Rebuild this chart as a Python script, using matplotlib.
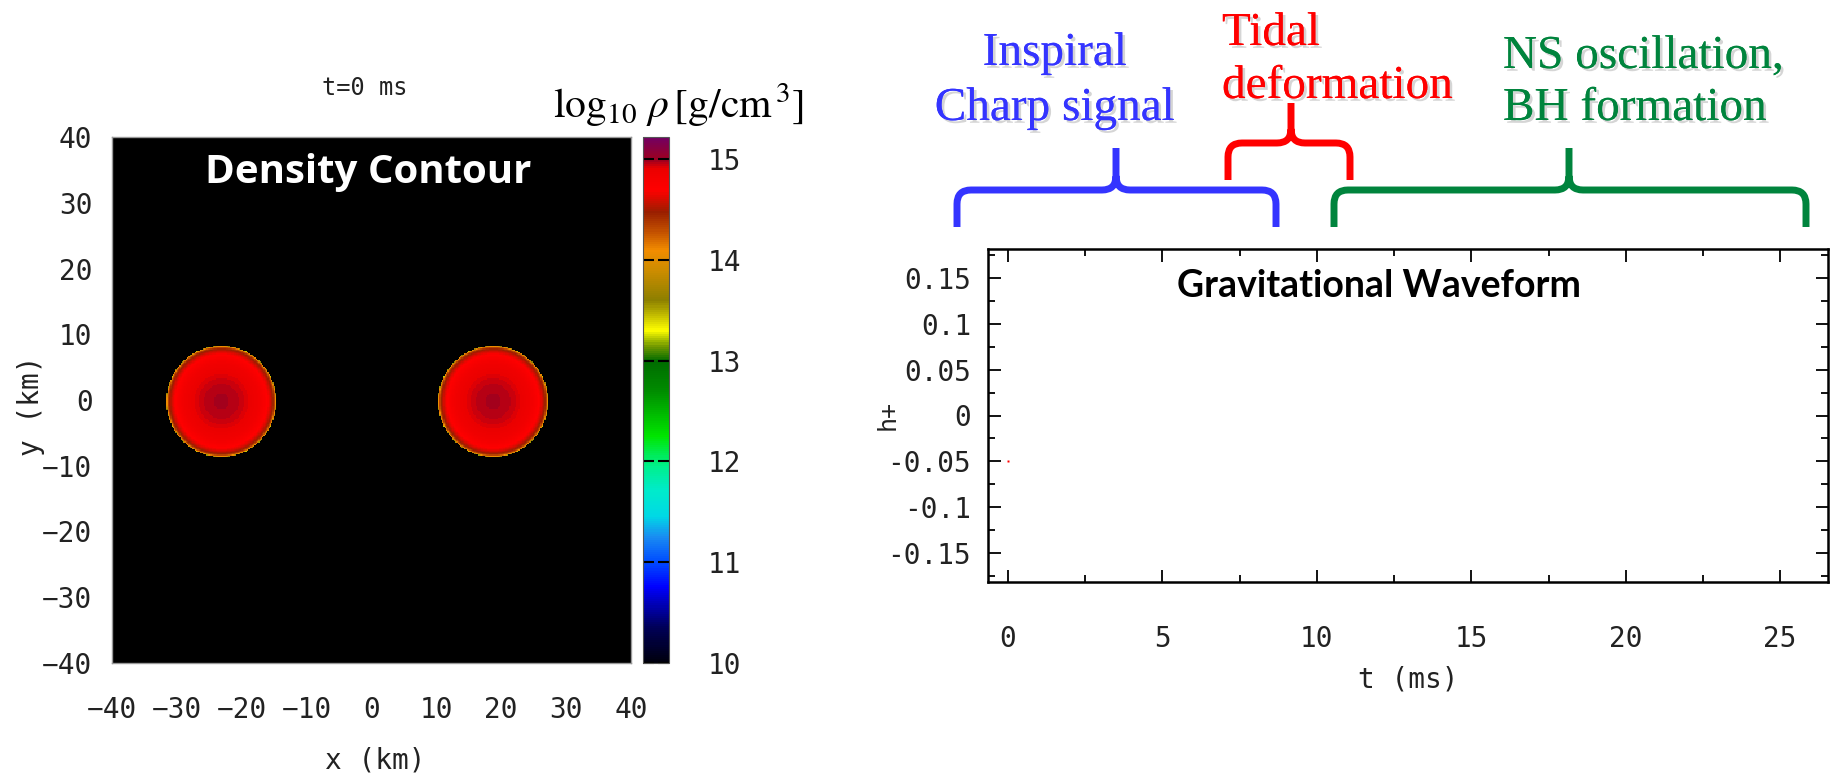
import numpy as np
import matplotlib
matplotlib.use("Agg")
import matplotlib.pyplot as plt
import matplotlib.patheffects as pe
from matplotlib.colors import LinearSegmentedColormap, Normalize
from matplotlib.path import Path
from matplotlib.patches import PathPatch

plt.rcParams['mathtext.fontset'] = 'stix'

# binary neutron star at t = 0 (km, log10 g/cm^3)
star_x = [-23.2, 18.8]
star_y = [-0.2, -0.2]
star_radius = [8.5, 8.5]
log_rho_center = [14.98, 14.98]
log_rho_surface = 13.0
log_rho_floor = 9.0

# colour bar
cbar_ticks = [10, 11, 12, 13, 14, 15]
cbar_min, cbar_max = 10.0, 15.22

# waveform samples so far (t in ms, h+)
t_ms = [0.0]
h_plus = [-0.05]
t_ticks = [0, 5, 10, 15, 20, 25]
h_ticks = [-0.15, -0.1, -0.05, 0, 0.05, 0.1, 0.15]
h_ticklabels = ['-0.15', '-0.1', '-0.05', '0', '0.05', '0.1', '0.15']

# merger phases
phase_lines = [['Inspiral', 'Charp signal'],
               ['Tidal', 'deformation'],
               ['NS oscillation,', 'BH formation']]
phase_colors = ['#3434ff', '#ff0000', '#00843d']

mono = 'DejaVu Sans Mono'
tick_color = '#222222'

# gnuplot-like density palette
stops = [(10.0, (0.0, 0.0, 0.05)), (10.35, (0.0, 0.0, 0.35)), (10.75, (0.0, 0.0, 1.0)),
         (11.0, (0.0, 0.3, 1.0)), (11.25, (0.1, 0.55, 0.95)), (11.45, (0.0, 0.85, 0.9)),
         (11.7, (0.0, 0.92, 0.8)), (11.95, (0.0, 0.94, 0.55)), (12.25, (0.0, 0.9, 0.0)),
         (12.7, (0.0, 0.55, 0.0)), (13.0, (0.0, 0.42, 0.0)), (13.15, (0.45, 0.6, 0.0)),
         (13.3, (1.0, 1.0, 0.0)), (13.6, (0.55, 0.5, 0.0)), (13.9, (0.8, 0.55, 0.0)),
         (14.1, (0.95, 0.55, 0.0)), (14.3, (0.75, 0.3, 0.0)), (14.48, (0.6, 0.12, 0.0)),
         (14.7, (1.0, 0.0, 0.0)), (14.92, (0.92, 0.0, 0.0)), (15.0, (0.62, 0.0, 0.12)),
         (15.22, (0.45, 0.0, 0.38))]
cmap = LinearSegmentedColormap.from_list(
    'rho', [((v - cbar_min) / (cbar_max - cbar_min), c) for v, c in stops])
cmap.set_under('black')
norm = Normalize(cbar_min, cbar_max)

# density field on the equatorial plane
grid = np.linspace(-40, 40, 401)
X, Y = np.meshgrid(grid, grid)
field = np.full(X.shape, log_rho_floor)
for cx, cy, R, rc in zip(star_x, star_y, star_radius, log_rho_center):
    q = ((X - cx) ** 2 + (Y - cy) ** 2) / R ** 2
    inside = q < 1
    prof = rc + 0.55 * np.log10(np.clip(1 - q, 1e-4, None))
    prof = np.maximum(prof, log_rho_surface)
    field = np.where(inside, np.maximum(field, prof), field)

W, H = 1831, 773
fig = plt.figure(figsize=(W / 100, H / 100), dpi=100)


def frac(x0, y0, x1, y1):
    return [x0 / W, 1 - y1 / H, (x1 - x0) / W, (y1 - y0) / H]


# --- density snapshot ---
ax = fig.add_axes(frac(112, 137, 631, 663))
im = ax.imshow(field, extent=[-40, 40, -40, 40], origin='lower', cmap=cmap,
               norm=norm, interpolation='nearest', aspect='auto')
ax.set_xticks(range(-40, 41, 10))
ax.set_yticks(range(-40, 41, 10))
ax.tick_params(direction='in', length=0, labelsize=20, colors=tick_color)
ax.tick_params(axis='x', pad=24)
ax.tick_params(axis='y', pad=14)
for lab in ax.get_xticklabels() + ax.get_yticklabels():
    lab.set_family(mono)
for s in ax.spines.values():
    s.set_color('#999999')
    s.set_linewidth(1)
ax.set_xlabel('x (km)', family=mono, fontsize=20, color=tick_color)
ax.set_ylabel('y (km)', family=mono, fontsize=20, color=tick_color)
ax.xaxis.set_label_coords(0.507, -0.158)
ax.yaxis.set_label_coords(-0.13, 0.49)
ax.text(0.493, 0.932, 'Density Contour', transform=ax.transAxes, ha='center',
        va='center', color='white', fontsize=29, fontweight='bold', family='Open Sans')

cax = fig.add_axes(frac(643, 137, 669, 663))
cb = fig.colorbar(im, cax=cax, ticks=cbar_ticks)
cb.outline.set_edgecolor('#555555')
cax.tick_params(direction='in', length=8, width=1.5, left=True, right=True,
                color='black', labelsize=20, labelcolor=tick_color, pad=28)
for lab in cax.get_yticklabels():
    lab.set_family(mono)

# --- gravitational waveform ---
ax2 = fig.add_axes(frac(988, 249, 1828, 582))
ax2.plot(t_ms, h_plus, ls='none', marker='s', ms=1.6, color='red', mec='none')
ax2.set_xlim(-0.65, 26.55)
ax2.set_ylim(-0.181, 0.181)
ax2.set_xticks(t_ticks)
ax2.set_xticks(np.arange(0, 26.5, 2.5), minor=True)
ax2.set_yticks(h_ticks)
ax2.set_yticklabels(h_ticklabels)
ax2.set_yticks(np.arange(-0.175, 0.18, 0.025), minor=True)
ax2.tick_params(which='both', direction='in', top=True, right=True, width=1.3,
                colors='black', labelsize=20, labelcolor=tick_color)
ax2.tick_params(which='major', length=9)
ax2.tick_params(which='minor', length=5)
ax2.tick_params(axis='x', which='major', pad=31)
ax2.tick_params(axis='y', which='major', pad=12)
for lab in ax2.get_xticklabels() + ax2.get_yticklabels():
    lab.set_family(mono)
for s in ax2.spines.values():
    s.set_linewidth(1.8)
ax2.set_xlabel('t (ms)', family=mono, fontsize=20, color=tick_color)
ax2.set_ylabel('h+', family=mono, fontsize=18, color=tick_color)
ax2.xaxis.set_label_coords(0.5, -0.25)
ax2.yaxis.set_label_coords(-0.105, 0.5)
ax2.text(0.465, 0.889, 'Gravitational Waveform', transform=ax2.transAxes,
         ha='center', va='center', fontsize=27, fontweight='bold', family='Lato')

# --- annotations in pixel space ---
ov = fig.add_axes([0, 0, 1, 1], facecolor='none')
ov.set_xlim(0, W)
ov.set_ylim(H, 0)
ov.axis('off')

ov.text(365, 88, 't=0 ms', ha='center', va='center', family=mono, fontsize=17,
        color=tick_color)
ov.text(553, 118, r'$\log_{10}\,\rho\,[\mathrm{g/cm}^{\,3}]$', ha='left',
        va='baseline', fontsize=30)


def brace(x0, x1, xm, y_tip, y_bar, y_top, color, r=14):
    verts = [(x0, y_tip), (x0, y_bar + r), (x0, y_bar), (x0 + r, y_bar),
             (xm - r, y_bar), (xm, y_bar), (xm, y_bar - r), (xm, y_top),
             (x1, y_tip), (x1, y_bar + r), (x1, y_bar), (x1 - r, y_bar),
             (xm + r, y_bar), (xm, y_bar), (xm, y_bar - r)]
    codes = [Path.MOVETO, Path.LINETO, Path.CURVE3, Path.CURVE3,
             Path.LINETO, Path.CURVE3, Path.CURVE3, Path.LINETO,
             Path.MOVETO, Path.LINETO, Path.CURVE3, Path.CURVE3,
             Path.LINETO, Path.CURVE3, Path.CURVE3]
    ov.add_patch(PathPatch(Path(verts, codes), fill=False, edgecolor=color,
                           lw=5, capstyle='butt', joinstyle='round'))


brace(957, 1276, 1116, 227, 190, 148, phase_colors[0])
brace(1228, 1350, 1291, 180, 143, 103, phase_colors[1])
brace(1334, 1806, 1569, 227, 190, 148, phase_colors[2])

shadow = [pe.withSimplePatchShadow(offset=(2, -2), shadow_rgbFace='#888888', alpha=0.35),
          pe.Normal()]
text_spots = [(1055, 'center', [65, 120]),
              (1222, 'left', [45, 98]),
              (1503, 'left', [68, 120])]
for (x, ha, ys), lines, col in zip(text_spots, phase_lines, phase_colors):
    for y, line in zip(ys, lines):
        ov.text(x, y, line, ha=ha, va='baseline', color=col, fontsize=34,
                family='Liberation Serif', path_effects=shadow)

fig.savefig('out.png', dpi=100)
